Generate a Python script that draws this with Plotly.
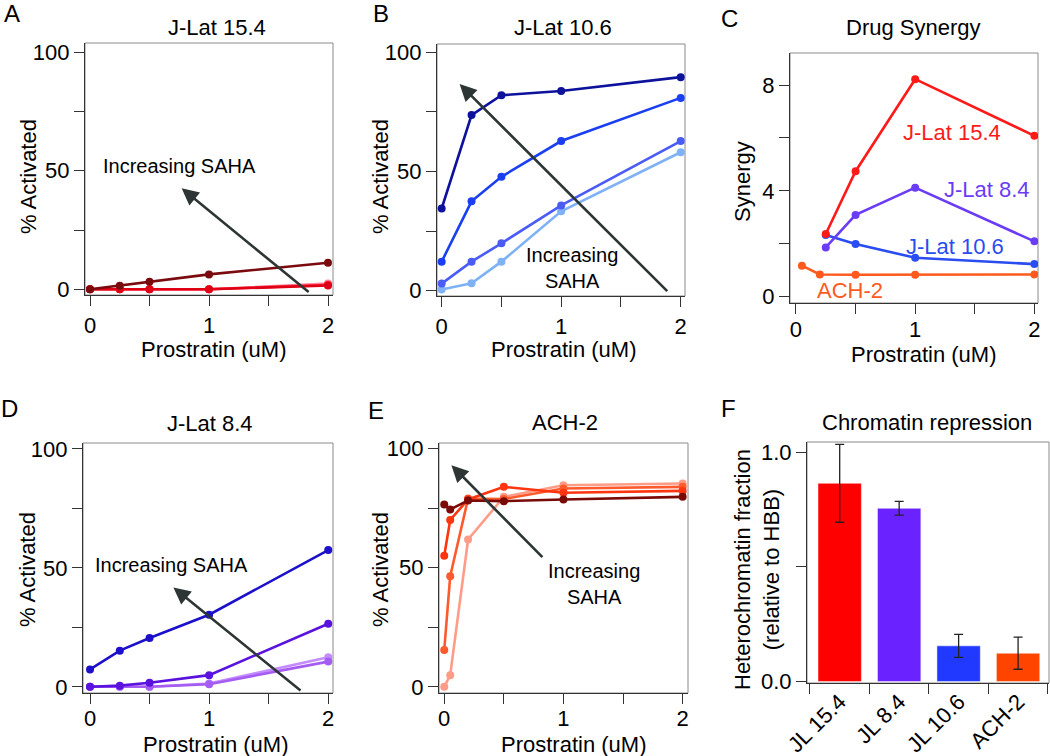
import plotly.graph_objects as go

W, H = 1050, 756
FONT = "Liberation Sans, Arial, Helvetica, sans-serif"

# ---- data ----
prostratin = [0, 0.25, 0.5, 1, 2]

# A: J-Lat 15.4, % activated, low -> high SAHA
jl154_saha0 = [0, 0, 0, 0, 2.4]
jl154_saha1 = [0, 0, 0, 0, 1.9]
jl154_saha2 = [0, 0, 0, 0, 1.6]
jl154_saha3 = [0, 1.5, 3.2, 6.3, 11.2]

# B: J-Lat 10.6
jl106_saha0 = [0.5, 3.1, 12.2, 33.3, 58.1]
jl106_saha1 = [3, 12.2, 19.9, 35.8, 62.8]
jl106_saha2 = [12.2, 37.5, 47.8, 62.8, 80.9]
jl106_saha3 = [34.5, 73.7, 82, 83.8, 89.6]

# C: drug synergy
syn_x = [0.25, 0.5, 1, 2]
syn_jl154 = [2.37, 4.74, 8.22, 6.08]
syn_jl84 = [1.86, 3.09, 4.12, 2.09]
syn_jl106 = [2.33, 1.99, 1.47, 1.23]
syn_ach2_x = [0.05, 0.2, 0.5, 1, 2]
syn_ach2 = [1.17, 0.84, 0.83, 0.83, 0.84]

# D: J-Lat 8.4
jl84_saha0 = [0, 0, 0, 1.4, 12.4]
jl84_saha1 = [0, 0, 0, 1.1, 10.6]
jl84_saha2 = [0, 0.5, 1.7, 4.9, 26.5]
jl84_saha3 = [7.3, 15.2, 20.5, 30.3, 57.5]

# E: ACH-2
ach2_x = [0, 0.05, 0.2, 0.5, 1, 2]
ach2_saha0 = [0, 4.9, 61.8, 79.7, 84.6, 85.3]
ach2_saha1 = [15.4, 46.4, 79, 78.8, 83.2, 83.9]
ach2_saha2 = [55, 70, 78.6, 83.9, 81.4, 82.2]
ach2_saha3 = [76.5, 74.4, 78.2, 77.9, 78.6, 79.7]

# F: chromatin repression
cell_lines = ["JL 15.4", "JL 8.4", "JL 10.6", "ACH-2"]
het_frac = [0.865, 0.756, 0.156, 0.124]
het_err = [0.17, 0.03, 0.05, 0.07]
bar_colors = ["#ff0000", "#6a22ff", "#2038ff", "#ff4400"]


def px_x(p):
    return p / W


def px_y(p):
    return 1 - p / H


# panel boxes in pixels: (left, right, top, bottom)
boxes = {
    1: (85, 333, 43, 295),
    2: (437, 685, 44, 296),
    3: (790, 1038, 53, 303),
    4: (83, 333, 443, 693),
    5: (439, 688, 443, 693),
    6: (807, 1049, 442, 683),
}
xranges = {1: [-0.042, 2.042], 2: [-0.039, 2.036], 3: [-0.05, 2.03],
           4: [-0.059, 2.04], 5: [-0.044, 2.045], 6: [-0.55, 3.52]}
yranges = {1: [-2.4, 103.9], 2: [-2.2, 103.5], 3: [-0.24, 9.21],
           4: [-2.6, 102.5], 5: [-2.6, 102.3], 6: [-0.006, 1.045]}
# x tick labels sit a little closer to the axis in C, D, E and F
x_standoff = {1: 0, 2: 0, 3: -4, 4: -5, 5: -5, 6: -4}

fig = go.Figure()


def add_line(n, x, y, color):
    fig.add_trace(go.Scatter(
        x=x, y=y, mode="lines+markers",
        line=dict(color=color, width=2.6),
        marker=dict(color=color, size=8),
        xaxis="x" if n == 1 else f"x{n}", yaxis="y" if n == 1 else f"y{n}",
        showlegend=False,
    ))


# A
add_line(1, prostratin, jl154_saha0, "#ff8a9a")
add_line(1, prostratin, jl154_saha1, "#ff3045")
add_line(1, prostratin, jl154_saha2, "#e00015")
add_line(1, prostratin, jl154_saha3, "#7a0a0e")
# B
add_line(2, prostratin, jl106_saha0, "#7fb2f5")
add_line(2, prostratin, jl106_saha1, "#4a5cf5")
add_line(2, prostratin, jl106_saha2, "#1a3ff0")
add_line(2, prostratin, jl106_saha3, "#0c129c")
# C
add_line(3, syn_ach2_x, syn_ach2, "#ff5a1e")
add_line(3, syn_x, syn_jl106, "#2a4cf0")
add_line(3, syn_x, syn_jl84, "#6a3cf5")
add_line(3, syn_x, syn_jl154, "#ff1a1a")
# D
add_line(4, prostratin, jl84_saha0, "#c58cff")
add_line(4, prostratin, jl84_saha1, "#a45cf2")
add_line(4, prostratin, jl84_saha2, "#5a12de")
add_line(4, prostratin, jl84_saha3, "#1c10cc")
# E
add_line(5, ach2_x, ach2_saha0, "#ff9c88")
add_line(5, ach2_x, ach2_saha1, "#ff5a2c")
add_line(5, ach2_x, ach2_saha2, "#ff3510")
add_line(5, ach2_x, ach2_saha3, "#7a0a06")
# F
fig.add_trace(go.Bar(
    x=cell_lines, y=het_frac, width=0.73,
    marker=dict(color=bar_colors, line=dict(color="rgba(255,255,255,0.5)", width=1)),
    error_y=dict(type="data", array=het_err, color="#222222", thickness=1.3, width=4.5),
    xaxis="x6", yaxis="y6", showlegend=False,
))

tickfont = dict(family=FONT, size=22, color="black")
layout = dict(
    width=W, height=H, autosize=False, margin=dict(l=0, r=0, t=0, b=0, pad=0),
    paper_bgcolor="white", plot_bgcolor="white",
    font=dict(family=FONT, color="black"),
)

for n in range(1, 7):
    l, r, t, b = boxes[n]
    common = dict(showline=True, linecolor="#333333", linewidth=1.2, ticks="outside",
                  ticklen=10, tickwidth=1, tickcolor="#333333", showgrid=False,
                  zeroline=False, tickfont=tickfont, fixedrange=True, automargin=False)
    xa = dict(domain=[px_x(l), px_x(r)], range=xranges[n],
              anchor="y" if n == 1 else f"y{n}", ticklabelstandoff=x_standoff[n], **common)
    ya = dict(domain=[px_y(b), px_y(t)], range=yranges[n],
              anchor="x" if n == 1 else f"x{n}", **common)
    if n == 6:
        xa.update(type="category", tickson="boundaries", tickangle=-45)
        ya.update(tickvals=[0, 0.5, 1.0], ticktext=["0.0", "", "1.0"])
    else:
        xa.update(tickvals=[0, 0.5, 1, 1.5, 2], ticktext=["0", "", "1", "", "2"])
        if n == 3:
            ya.update(tickvals=[0, 2, 4, 6, 8], ticktext=["0", "", "4", "", "8"])
        else:
            ya.update(tickvals=[0, 25, 50, 75, 100], ticktext=["0", "", "50", "", "100"])
    layout["xaxis" if n == 1 else f"xaxis{n}"] = xa
    layout["yaxis" if n == 1 else f"yaxis{n}"] = ya

fig.update_layout(**layout)

# grey frame around every panel
for n in range(1, 7):
    xs = "x" if n == 1 else f"x{n}"
    ys = "y" if n == 1 else f"y{n}"
    fig.add_shape(type="rect", xref=f"{xs} domain", yref=f"{ys} domain",
                  x0=0, x1=1, y0=0, y1=1, line=dict(color="#8a8a8a", width=1), layer="below")


def text(xp, yp, s, size=22, color="black", angle=0):
    fig.add_annotation(x=px_x(xp), y=px_y(yp), xref="paper", yref="paper",
                       text=s, showarrow=False,
                       font=dict(family=FONT, size=size, color=color),
                       textangle=angle, xanchor="center", yanchor="middle")


# panel letters
for letter, (lx, ly) in {"A": (12, 14), "B": (381, 14), "C": (729, 18),
                          "D": (9, 408), "E": (376, 410), "F": (728, 408)}.items():
    text(lx, ly, letter, size=24)

# panel titles
text(217, 28, "J-Lat 15.4")
text(563, 28, "J-Lat 10.6")
text(913, 28, "Drug Synergy")
text(210, 423, "J-Lat 8.4")
text(565, 422, "ACH-2")
text(927, 422, "Chromatin repression")

# axis titles
for cx, cy in [(213, 349), (563, 349), (923, 354), (215, 744), (573, 744)]:
    text(cx, cy, "Prostratin (uM)")
for cx, cy in [(28, 177), (380, 177), (27, 570), (380, 570)]:
    text(cx, cy, "% Activated", angle=-90)
text(743, 182, "Synergy", angle=-90)
text(757, 570, "Heterochromatin fraction<br>(relative to HBB)", angle=-90)

# "Increasing SAHA" arrows and labels (data coordinates)
arrows = [
    ("x", "y", 0.77, 42.6, 1.85, -1.7),
    ("x2", "y2", 0.15, 86.7, 1.9, -0.8),
    ("x4", "y4", 0.70, 41.8, 1.78, -2.1),
    ("x5", "y5", 0.06, 93.0, 0.836, 53.8),
]
for xr, yr, hx, hy, tx, ty in arrows:
    fig.add_annotation(x=hx, y=hy, ax=tx, ay=ty, xref=xr, yref=yr, axref=xr, ayref=yr,
                       text="", showarrow=True, arrowhead=2, arrowsize=1.3,
                       arrowwidth=2.6, arrowcolor="#2d3535")

for xr, yr, x, y, s in [("x", "y", 0.755, 52, "Increasing SAHA"),
                        ("x2", "y2", 1.09, 9.5, "Increasing<br>SAHA"),
                        ("x4", "y4", 0.685, 51.3, "Increasing SAHA"),
                        ("x5", "y5", 1.26, 43.3, "Increasing<br>SAHA")]:
    fig.add_annotation(x=x, y=y, xref=xr, yref=yr, text=s, showarrow=False,
                       font=dict(family=FONT, size=20, color="black"))

# synergy series labels
for x, y, s, c in [(1.31, 6.2, "J-Lat 15.4", "#ff1a1a"), (1.6, 4.05, "J-Lat 8.4", "#6a3cf5"),
                   (1.33, 1.9, "J-Lat 10.6", "#2a4cf0"), (0.45, 0.25, "ACH-2", "#ff5a1e")]:
    fig.add_annotation(x=x, y=y, xref="x3", yref="y3", text=s, showarrow=False,
                       font=dict(family=FONT, size=22, color=c))

# the page body has a default 8px margin; drop it so the figure sits at the corner
fig.write_html("out.html", config={"displayModeBar": False},
               post_script="document.body.style.margin='0';")
